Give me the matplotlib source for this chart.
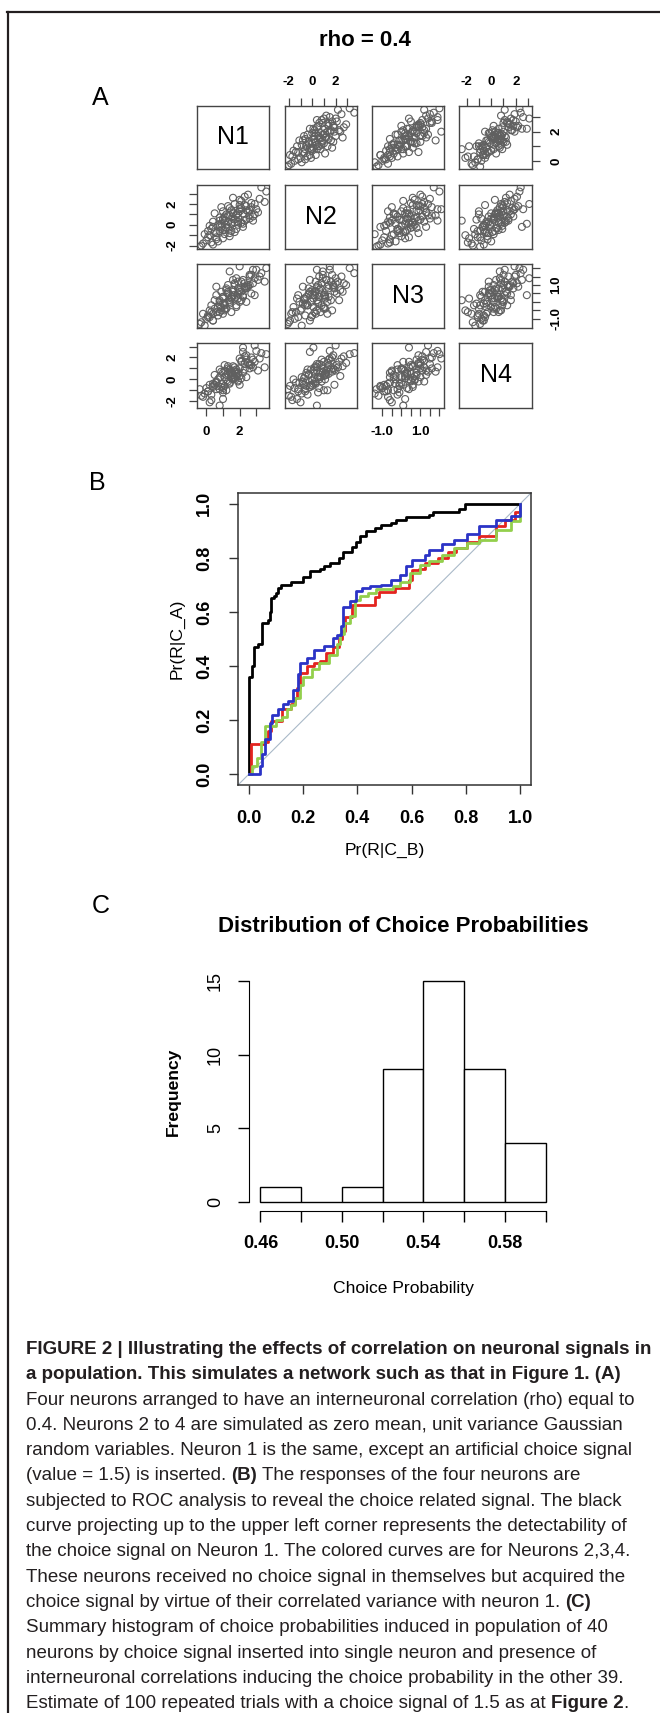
import matplotlib
matplotlib.use('Agg')
import matplotlib.pyplot as plt
from matplotlib.lines import Line2D
import numpy as np

plt.rcParams['font.family'] = ['Liberation Sans', 'DejaVu Sans']

W, H, DPI = 660, 1713, 100

# panel A: responses of the four simulated neurons (100 trials)
n1 = [2.6, 0.8, 1.9, 0.1, 2.3, 1.3, 3.2, 1.0, 1.4, 0.6,
      2.1, 0.4, 1.7, 2.9, 1.1, -0.2, 1.6, 2.4, 0.9, 1.2,
      3.5, 0.2, 1.8, 2.0, 0.7, 1.5, 2.7, 1.0, -0.4, 2.2,
      1.3, 0.5, 2.5, 1.9, 0.8, 3.0, 1.4, 0.3, 2.3, 1.6,
      1.1, 2.8, 0.0, 1.7, 2.0, 0.6, 1.2, 2.6, 1.5, 0.9,
      3.3, 1.8, 0.4, 2.1, 1.0, 2.4, 1.3, -0.1, 1.9, 2.7,
      0.7, 1.4, 2.2, 0.2, 1.6, 3.1, 1.1, 0.8, 2.0, 1.7,
      0.5, 2.5, 1.2, -0.3, 2.9, 1.5, 1.0, 2.3, 0.6, 1.8,
      2.6, 1.3, 0.1, 2.1, 1.9, 0.9, 3.6, 1.4, 0.3, 2.4,
      1.7, 0.8, 2.0, 1.1, 2.8, 0.4, 1.6, 2.2, 1.0, 1.5]
n2 = [1.4, -0.6, 1.1, -1.2, 0.4, 0.8, 2.5, -0.5, 1.6, -1.4,
      0.2, -0.2, 2.0, 1.0, -0.9, -1.8, 0.6, 1.8, 0.1, -0.3,
      2.2, -1.0, 0.9, 1.3, 0.0, -0.6, 1.7, 0.5, -2.1, 1.1,
      0.3, -0.7, 2.9, 0.0, 0.7, 1.5, -1.1, -0.4, 1.9, 1.2,
      0.4, 0.8, -1.5, 0.2, 2.4, -0.8, 1.0, 0.6, 1.4, -0.2,
      3.6, -0.4, 0.3, 1.6, -1.3, 0.5, 1.8, -0.9, 0.7, 2.1,
      -1.6, 0.9, 0.1, -0.1, 2.6, 1.2, -0.5, 0.4, 1.5, -0.7,
      1.1, 1.3, 0.0, -2.0, 2.0, 0.2, 0.6, 2.7, -1.2, 1.0,
      0.9, -0.3, -0.6, 2.3, 0.3, 1.7, 3.2, -0.8, -1.7, 1.4,
      0.5, -0.1, 1.9, 0.8, 0.4, -1.9, 1.1, -0.2, 1.3, 0.1]
n3 = [1.0, -0.2, 0.2, -0.9, 0.9, 0.5, 1.5, 0.3, 0.1, -0.6,
      0.6, -1.1, 1.1, 0.4, -0.4, -0.7, 0.7, 0.9, -0.3, 0.8,
      1.2, -0.5, 1.4, 0.0, -0.8, 0.2, 1.6, -0.1, -1.3, 0.3,
      0.6, 0.1, 1.0, 0.5, -0.6, 1.9, 0.0, -0.2, 0.8, 1.3,
      -0.5, 1.1, -1.0, 0.4, 0.7, 0.9, -0.4, 1.5, 0.3, 0.6,
      1.7, -0.2, -0.7, 1.2, 0.2, 0.0, 1.0, -1.4, 0.8, 0.5,
      -0.3, 1.8, 0.4, -0.9, 0.6, 1.3, -0.1, 0.1, 2.1, 0.2,
      -0.4, 0.9, 0.7, -1.2, 1.4, -0.6, 0.3, 1.1, 0.4, -0.3,
      1.6, 0.5, -0.8, 0.1, 1.2, -0.5, 2.0, -0.1, -0.6, 0.8,
      1.0, 0.0, 0.6, -0.2, 1.9, -1.1, 0.4, 1.3, -0.7, 0.2]
n4 = [1.3, -0.9, 0.5, -1.1, 1.4, -0.2, 1.9, 0.6, 0.9, -0.3,
      0.1, -0.7, 0.8, 1.6, 0.2, -1.6, 0.0, 2.2, -0.4, 0.4,
      1.1, -2.1, 0.7, 1.0, -0.6, 0.3, 2.0, -1.2, -0.9, 0.6,
      1.2, -0.5, 1.5, -0.1, 0.2, 2.6, -0.3, -1.4, 0.9, 0.4,
      0.8, 1.8, -0.8, 1.1, 0.3, -0.2, -1.0, 1.4, 0.5, -0.7,
      2.4, 0.9, -0.4, 1.7, -1.8, 0.2, 1.0, -1.3, 0.6, 1.3,
      0.0, 0.7, 2.9, -0.5, 1.2, 0.8, -0.6, -2.4, 1.9, 0.1,
      0.4, 1.5, -0.1, -1.5, 3.1, 0.6, -0.8, 2.1, -0.9, 0.3,
      1.0, 0.5, -1.1, 1.6, -0.2, 0.7, 2.3, -0.4, -1.9, 1.8,
      0.2, 0.9, -0.5, 1.3, 1.1, -0.6, 0.0, 2.5, -1.0, 0.8]
neuron_names = ['N1', 'N2', 'N3', 'N4']
neuron_ticks = [[0, 1, 2, 3],
                [-2, -1, 0, 1, 2, 3],
                [-1.0, -0.5, 0.0, 0.5, 1.0, 1.5, 2.0],
                [-2, -1, 0, 1, 2, 3]]
neuron_ticklabels = [['0', '', '2', ''],
                     ['-2', '', '0', '', '2', ''],
                     ['-1.0', '', '', '', '1.0', '', ''],
                     ['-2', '', '0', '', '2', '']]

# panel B: ROC curves (false positive rate, true positive rate)
roc1_fpr = [0.0, 0.0, 0.011, 0.02, 0.034, 0.049, 0.07, 0.077, 0.082, 0.093,
            0.10, 0.108, 0.12, 0.155, 0.20, 0.224, 0.263, 0.278, 0.30, 0.332,
            0.348, 0.379, 0.394, 0.41, 0.433, 0.464, 0.487, 0.525, 0.541, 0.58,
            0.665, 0.68, 0.773, 0.796, 1.0]
roc1_tpr = [0.0, 0.36, 0.40, 0.47, 0.48, 0.56, 0.57, 0.60, 0.65, 0.66,
            0.67, 0.69, 0.70, 0.71, 0.73, 0.75, 0.76, 0.77, 0.78, 0.80,
            0.82, 0.84, 0.86, 0.88, 0.90, 0.91, 0.92, 0.93, 0.94, 0.95,
            0.96, 0.97, 0.98, 1.0, 1.0]
roc2_fpr = [0.0, 0.007, 0.06, 0.07, 0.08, 0.124, 0.155, 0.17, 0.178, 0.19,
            0.216, 0.24, 0.263, 0.286, 0.309, 0.332, 0.345, 0.355, 0.379, 0.465,
            0.48, 0.54, 0.59, 0.60, 0.626, 0.649, 0.696, 0.734, 0.765, 0.804,
            0.85, 0.912, 0.943, 0.981, 1.0]
roc2_tpr = [0.0, 0.11, 0.12, 0.16, 0.195, 0.24, 0.26, 0.28, 0.32, 0.374,
            0.40, 0.41, 0.42, 0.45, 0.47, 0.50, 0.53, 0.58, 0.627, 0.655,
            0.675, 0.69, 0.72, 0.755, 0.76, 0.78, 0.80, 0.82, 0.837, 0.86,
            0.88, 0.917, 0.94, 0.97, 1.0]
roc3_fpr = [0.0, 0.01, 0.03, 0.045, 0.06, 0.10, 0.124, 0.139, 0.155, 0.17,
            0.19, 0.201, 0.232, 0.26, 0.294, 0.325, 0.336, 0.35, 0.371, 0.39,
            0.41, 0.44, 0.47, 0.53, 0.557, 0.594, 0.63, 0.665, 0.711, 0.757,
            0.804, 0.85, 0.912, 0.966, 1.0]
roc3_tpr = [0.0, 0.03, 0.06, 0.12, 0.18, 0.20, 0.21, 0.24, 0.257, 0.28,
            0.33, 0.36, 0.39, 0.41, 0.44, 0.48, 0.52, 0.56, 0.585, 0.645,
            0.66, 0.67, 0.685, 0.695, 0.71, 0.744, 0.774, 0.79, 0.81, 0.837,
            0.855, 0.868, 0.905, 0.936, 1.0]
roc4_fpr = [0.0, 0.03, 0.04, 0.05, 0.06, 0.078, 0.087, 0.109, 0.127, 0.145,
            0.164, 0.18, 0.187, 0.216, 0.24, 0.278, 0.309, 0.325, 0.34, 0.346,
            0.371, 0.394, 0.417, 0.448, 0.487, 0.525, 0.556, 0.58, 0.603, 0.649,
            0.665, 0.711, 0.757, 0.804, 0.85, 0.912, 0.966, 1.0]
roc4_tpr = [0.0, 0.0, 0.03, 0.075, 0.13, 0.19, 0.22, 0.24, 0.26, 0.27,
            0.31, 0.37, 0.41, 0.43, 0.46, 0.473, 0.503, 0.516, 0.547, 0.62,
            0.64, 0.677, 0.69, 0.695, 0.70, 0.72, 0.738, 0.77, 0.794, 0.812,
            0.83, 0.85, 0.868, 0.89, 0.917, 0.94, 0.954, 1.0]
roc_colors = ['black', '#e3241f', '#93cf4c', '#2b33c6']
roc_ticks = [0.0, 0.2, 0.4, 0.6, 0.8, 1.0]
roc_ticklabels = ['0.0', '0.2', '0.4', '0.6', '0.8', '1.0']

# panel C: histogram of choice probabilities
cp_edges = [0.46, 0.48, 0.50, 0.52, 0.54, 0.56, 0.58, 0.60]
cp_counts = [1, 0, 1, 9, 15, 9, 4]
cp_xticklabels = ['0.46', '', '0.50', '', '0.54', '', '0.58', '']
cp_yticks = [0, 5, 10, 15]

caption_lines = [
    [("FIGURE 2 | Illustrating the effects of correlation on neuronal signals in", 'bold')],
    [("a population. This simulates a network such as that in Figure 1. (A)", 'bold')],
    [("Four neurons arranged to have an interneuronal correlation (rho) equal to", 'normal')],
    [("0.4. Neurons 2 to 4 are simulated as zero mean, unit variance Gaussian", 'normal')],
    [("random variables. Neuron 1 is the same, except an artificial choice signal", 'normal')],
    [("(value = 1.5) is inserted.", 'normal'), (" (B)", 'bold'),
     (" The responses of the four neurons are", 'normal')],
    [("subjected to ROC analysis to reveal the choice related signal. The black", 'normal')],
    [("curve projecting up to the upper left corner represents the detectability of", 'normal')],
    [("the choice signal on Neuron 1. The colored curves are for Neurons 2,3,4.", 'normal')],
    [("These neurons received no choice signal in themselves but acquired the", 'normal')],
    [("choice signal by virtue of their correlated variance with neuron 1.", 'normal'), (" (C)", 'bold')],
    [("Summary histogram of choice probabilities induced in population of 40", 'normal')],
    [("neurons by choice signal inserted into single neuron and presence of", 'normal')],
    [("interneuronal correlations inducing the choice probability in the other 39.", 'normal')],
    [("Estimate of 100 repeated trials with a choice signal of 1.5 as at", 'normal'),
     (" Figure 2", 'bold'), (".", 'normal')],
]


def pt(px):
    return px * 72.0 / DPI


fig = plt.figure(figsize=(W / DPI, H / DPI), dpi=DPI)
fig.patch.set_facecolor('white')


def px_axes(x0, y0, x1, y1):
    return fig.add_axes([x0 / W, 1 - y1 / H, (x1 - x0) / W, (y1 - y0) / H])


def px_text(x, y, s, **kw):
    return fig.text(x / W, 1 - y / H, s, **kw)


# frame of the figure
fig.add_artist(Line2D([8 / W, 8 / W], [0, 1 - 12 / H], transform=fig.transFigure,
                      color='#231f20', lw=pt(2.2)))
fig.add_artist(Line2D([7 / W, 1], [1 - 12 / H, 1 - 12 / H], transform=fig.transFigure,
                      color='#231f20', lw=pt(2.2)))

px_text(365, 41, 'rho = 0.4', ha='center', va='center', fontsize=16, fontweight='bold')
px_text(100, 98, 'A', ha='center', va='center', fontsize=18)
px_text(97, 483, 'B', ha='center', va='center', fontsize=18)
px_text(101, 906, 'C', ha='center', va='center', fontsize=18)

# ---- A: pairs plot
cols_px = [(197, 269), (285, 357), (372, 444), (459, 532)]
rows_px = [(106, 169), (185, 249), (264, 328), (343, 408)]
neurons = [n1, n2, n3, n4]
lims = []
for v in neurons:
    lo, hi = min(v), max(v)
    pad = 0.04 * (hi - lo)
    lims.append((lo - pad, hi + pad))

for i in range(4):
    for j in range(4):
        ax = px_axes(cols_px[j][0], rows_px[i][0], cols_px[j][1], rows_px[i][1])
        for sp in ax.spines.values():
            sp.set_color('#444444')
            sp.set_linewidth(1.0)
        ax.tick_params(bottom=False, left=False, labelbottom=False, labelleft=False,
                       direction='out', length=pt(8), width=0.9, color='#444444',
                       pad=pt(10), labelsize=9.5)
        if i == j:
            ax.set_xticks([])
            ax.set_yticks([])
            ax.text(0.5, 0.5, neuron_names[i], transform=ax.transAxes,
                    ha='center', va='center', fontsize=18)
            continue
        ax.scatter(neurons[j], neurons[i], s=25, facecolors='none',
                   edgecolors='#606060', linewidths=0.8)
        ax.set_xlim(lims[j])
        ax.set_ylim(lims[i])
        ax.set_xticks(neuron_ticks[j])
        ax.set_xticklabels(neuron_ticklabels[j], fontweight='bold')
        ax.set_yticks(neuron_ticks[i])
        ax.set_yticklabels(neuron_ticklabels[i], fontweight='bold', rotation=90, va='center')
        if i == 0 and j % 2 == 1:
            ax.tick_params(axis='x', top=True, labeltop=True)
        if i == 3 and j % 2 == 0:
            ax.tick_params(axis='x', bottom=True, labelbottom=True)
        if j == 0 and i % 2 == 1:
            ax.tick_params(axis='y', left=True, labelleft=True)
        if j == 3 and i % 2 == 0:
            ax.tick_params(axis='y', right=True, labelright=True)

# ---- B: ROC curves
ax = px_axes(238, 493, 531, 785)
ax.axline((0, 0), (1, 1), color='#a9b9c8', lw=0.8)
for fpr, tpr, c in zip([roc1_fpr, roc2_fpr, roc3_fpr, roc4_fpr],
                       [roc1_tpr, roc2_tpr, roc3_tpr, roc4_tpr], roc_colors):
    ax.plot(fpr, tpr, drawstyle='steps-post', color=c, lw=2.0)
ax.set_xlim(-0.04, 1.04)
ax.set_ylim(-0.04, 1.04)
ax.set_xticks(roc_ticks)
ax.set_xticklabels(roc_ticklabels, fontweight='bold')
ax.set_yticks(roc_ticks)
ax.set_yticklabels(roc_ticklabels, fontweight='bold', rotation=90, va='center')
ax.tick_params(direction='out', length=pt(9), width=1.0, pad=pt(16), labelsize=13,
               color='#333333')
for sp in ax.spines.values():
    sp.set_color('#333333')
    sp.set_linewidth(1.1)
px_text(177, 639, 'Pr(R|C_A)', ha='center', va='center', rotation=90, fontsize=12.6)
px_text(385, 850, 'Pr(R|C_B)', ha='center', va='center', fontsize=12.6)

# ---- C: histogram
ax = px_axes(249, 972, 557, 1211)
widths = np.diff(cp_edges)
ax.bar(cp_edges[:-1], cp_counts, width=widths, align='edge', facecolor='white',
       edgecolor='black', linewidth=1.0)
xpad = 0.04 * (cp_edges[-1] - cp_edges[0])
ypad = 0.04 * max(cp_yticks)
ax.set_xlim(cp_edges[0] - xpad, cp_edges[-1] + xpad)
ax.set_ylim(-ypad, max(cp_yticks) + ypad)
ax.spines['top'].set_visible(False)
ax.spines['right'].set_visible(False)
ax.spines['left'].set_bounds(cp_yticks[0], cp_yticks[-1])
ax.spines['bottom'].set_bounds(cp_edges[0], cp_edges[-1])
ax.set_xticks(cp_edges)
ax.set_xticklabels(cp_xticklabels, fontweight='bold')
ax.set_yticks(cp_yticks)
ax.set_yticklabels([str(t) for t in cp_yticks], rotation=90, va='center')
ax.tick_params(direction='out', length=pt(11), width=1.0, labelsize=13)
ax.tick_params(axis='x', pad=pt(13))
ax.tick_params(axis='y', pad=pt(14))
px_text(403, 927, 'Distribution of Choice Probabilities', ha='center', va='center',
        fontsize=16, fontweight='bold')
px_text(173, 1092, 'Frequency', ha='center', va='center', rotation=90,
        fontsize=12.6, fontweight='bold')
px_text(403, 1289, 'Choice Probability', ha='center', va='center', fontsize=12.6)

# ---- caption
renderer = fig.canvas.get_renderer()
cap_fs = 13.5


def run_width(s, weight):
    t = fig.text(0, 0, s, fontsize=cap_fs, fontweight=weight)
    w = t.get_window_extent(renderer=renderer).width
    t.remove()
    return w


space_w = run_width('n n', 'normal') - run_width('nn', 'normal')
for k, runs in enumerate(caption_lines):
    x = 26
    y = 1354 + 25.3 * k
    for s, weight in runs:
        if s.startswith(' '):
            x += space_w
            s = s.lstrip()
        t = px_text(x, y, s, ha='left', va='baseline', fontsize=cap_fs,
                    fontweight=weight, color='#231f20')
        x += t.get_window_extent(renderer=renderer).width

fig.savefig('out.png', dpi=DPI, facecolor='white')
